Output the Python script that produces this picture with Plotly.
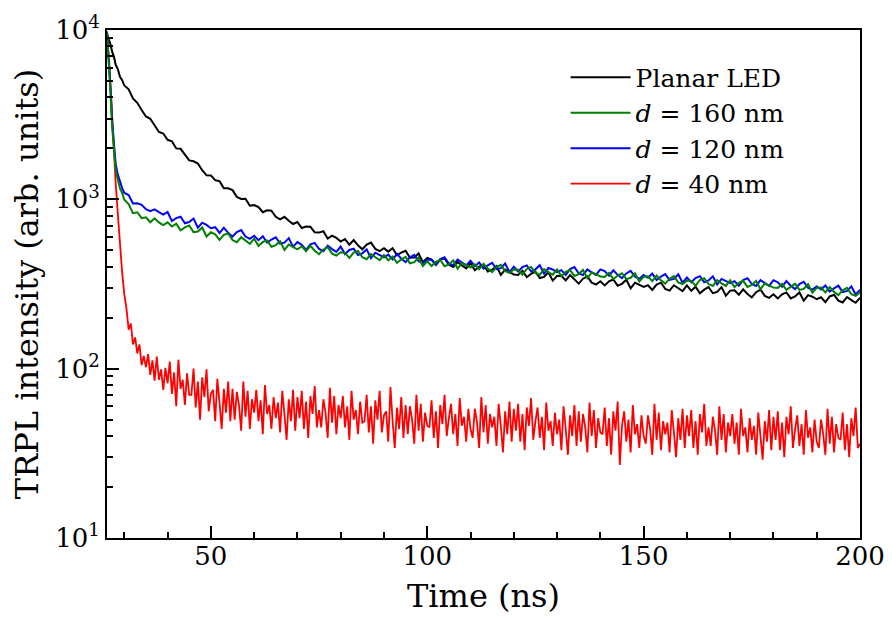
import plotly.graph_objects as go

# ---------------- data ----------------
# common time grid for the three slower curves (ns)
time_head = [26.0, 26.4, 26.8, 27.2, 27.6, 28.0, 28.5, 29.0, 29.5, 30.0]
time_tail = list(range(31, 201))
time_main = time_head + time_tail

planar_led = [
    9500, 8850, 8250, 7420, 6980, 6230, 5870, 5290, 5050, 4700,
    4468, 3940, 3717, 3366, 3087, 2989, 2747, 2499, 2448, 2247,
    2203, 1999, 1988, 1822, 1698, 1677, 1627, 1485, 1387, 1384,
    1297, 1280, 1164, 1162, 1133, 1034, 1005, 1009, 917, 924,
    899, 839, 862, 858, 789, 761, 788, 748, 715, 735,
    677, 690, 688, 639, 636, 648, 586, 610, 592, 563,
    582, 539, 575, 535, 507, 540, 555, 510, 495, 514,
    491, 514, 468, 485, 497, 452, 454, 479, 425, 451,
    441, 410, 440, 448, 411, 398, 427, 407, 391, 420,
    381, 401, 410, 375, 384, 403, 358, 385, 374, 360,
    358, 378, 347, 363, 374, 343, 348, 371, 331, 353,
    354, 332, 357, 335, 318, 340, 351, 322, 314, 328,
    310, 328, 336, 309, 317, 335, 298, 322, 314, 304,
    311, 292, 314, 322, 296, 289, 311, 298, 287, 310,
    288, 305, 279, 293, 303, 279, 284, 303, 270, 289,
    290, 273, 294, 276, 264, 283, 293, 269, 262, 275,
    260, 275, 282, 260, 267, 282, 252, 272, 266, 257,
    264, 247, 267, 273, 252, 246, 265, 254, 245, 262,
]

d160 = [
    9700, 6800, 4300, 2650, 1850, 1490, 1310, 1160, 1090, 995,
    938, 829, 839, 774, 783, 732, 773, 731, 705, 731,
    691, 718, 656, 683, 701, 640, 645, 682, 603, 639,
    622, 576, 617, 629, 575, 558, 598, 569, 546, 586,
    531, 560, 572, 525, 537, 565, 503, 541, 526, 507,
    528, 494, 531, 497, 474, 505, 522, 478, 466, 487,
    483, 451, 485, 496, 455, 443, 475, 454, 437, 469,
    436, 460, 422, 441, 457, 419, 426, 453, 404, 431,
    404, 427, 438, 403, 413, 436, 390, 420, 410, 395,
    413, 387, 416, 390, 372, 398, 410, 377, 368, 385,
    384, 359, 388, 399, 368, 358, 387, 371, 359, 386,
    352, 373, 383, 353, 362, 383, 342, 370, 362, 350,
    348, 368, 338, 355, 366, 338, 344, 366, 327, 349,
    351, 329, 355, 333, 318, 340, 352, 323, 316, 331,
    330, 309, 334, 342, 316, 308, 333, 319, 308, 333,
    303, 321, 330, 304, 312, 330, 295, 318, 311, 301,
    300, 317, 292, 306, 318, 292, 296, 315, 281, 300,
    301, 282, 303, 284, 272, 290, 300, 275, 269, 283,
]

d120 = [
    9800, 7000, 4550, 2850, 2000, 1620, 1400, 1265, 1165, 1090,
    1059, 946, 948, 927, 875, 852, 872, 841, 812, 842,
    744, 774, 789, 722, 735, 770, 681, 728, 706, 675,
    685, 634, 679, 634, 602, 640, 658, 603, 584, 609,
    574, 605, 555, 579, 597, 548, 555, 590, 524, 559,
    539, 503, 542, 553, 509, 494, 532, 508, 489, 526,
    475, 502, 511, 469, 480, 506, 449, 484, 471, 454,
    472, 441, 476, 446, 426, 454, 470, 431, 420, 440,
    440, 412, 444, 455, 418, 408, 441, 422, 407, 434,
    403, 424, 390, 408, 422, 387, 392, 418, 372, 400,
    375, 398, 407, 375, 386, 408, 364, 393, 385, 372,
    382, 358, 387, 398, 366, 357, 386, 370, 358, 386,
    377, 354, 381, 358, 342, 365, 378, 349, 340, 357,
    344, 364, 334, 350, 362, 334, 339, 361, 322, 345,
    324, 343, 352, 324, 332, 351, 314, 339, 331, 320,
    329, 309, 334, 342, 316, 308, 333, 319, 308, 333,
    324, 305, 329, 309, 295, 316, 326, 300, 293, 306,
    294, 310, 285, 298, 309, 283, 288, 306, 274, 292,
]

# d = 40 nm curve, sampled every 0.5 ns from 26 ns
red_t0 = 26.0
red_dt = 0.5
d40 = [
    9000, 6500, 3900, 2000, 1250, 820, 540, 370, 275,
    226, 170, 185, 139, 153, 123, 139, 105, 119, 102,
    122, 92, 112, 85, 118, 86, 99, 75, 101, 82,
    110, 71, 95, 60, 113, 76, 86, 61, 94, 70,
    70, 100, 59, 84, 50, 89, 68, 99, 56, 71,
    75, 49, 87, 63, 44, 76, 55, 84, 49, 76,
    50, 73, 61, 43, 84, 52, 74, 44, 66, 55,
    75, 49, 65, 41, 80, 54, 61, 44, 68, 51,
    63, 42, 74, 54, 38, 66, 49, 75, 43, 68,
    51, 74, 44, 64, 39, 69, 54, 79, 45, 57,
    45, 66, 55, 39, 77, 48, 69, 41, 61, 51,
    69, 45, 60, 38, 74, 50, 57, 41, 64, 48,
    49, 70, 42, 60, 36, 65, 50, 74, 42, 53,
    56, 37, 78, 49, 34, 59, 44, 68, 39, 61,
    41, 60, 50, 36, 70, 43, 62, 37, 55, 46,
    45, 65, 39, 56, 34, 61, 47, 70, 40, 51,
    62, 41, 54, 35, 67, 46, 52, 37, 58, 44,
    39, 58, 48, 34, 68, 42, 61, 36, 54, 45,
    52, 35, 62, 46, 32, 56, 41, 64, 37, 58,
    43, 62, 37, 54, 33, 59, 46, 67, 38, 49,
    59, 39, 52, 33, 63, 43, 49, 35, 55, 41,
    50, 33, 60, 44, 31, 53, 40, 61, 35, 56,
    37, 54, 45, 32, 63, 40, 57, 34, 51, 42,
    41, 59, 35, 51, 31, 56, 43, 64, 27, 46,
    56, 37, 50, 32, 61, 41, 47, 34, 53, 40,
    36, 53, 44, 31, 62, 38, 55, 33, 49, 41,
    48, 32, 57, 42, 30, 51, 38, 58, 34, 53,
    40, 57, 34, 49, 31, 54, 42, 62, 35, 45,
    35, 52, 43, 31, 60, 38, 54, 32, 48, 40,
    54, 36, 48, 31, 58, 40, 45, 32, 51, 38,
    46, 31, 55, 40, 29, 49, 37, 57, 33, 52,
    38, 56, 33, 48, 30, 52, 41, 60, 34, 44,
    53, 35, 47, 31, 57, 39, 45, 32, 50, 37,
    34, 50, 41, 31, 58, 36, 52, 32, 47, 39,
    38, 55, 33, 47, 30, 51, 40, 59, 34, 36,
]
time_red = [red_t0 + red_dt * i for i in range(len(d40))]

series_names = ["Planar LED", "<i>d</i> = 160 nm", "<i>d</i> = 120 nm", "<i>d</i> = 40 nm"]
series_colors = ["#000000", "#008000", "#0000ff", "#ff0000"]

x_tickvals = [50, 100, 150, 200]
y_tickvals = [10, 100, 1000, 10000]
y_ticktext = ["10<sup>1</sup>", "10<sup>2</sup>", "10<sup>3</sup>", "10<sup>4</sup>"]
y_minor = [m * 10 ** k for k in range(1, 4) for m in range(2, 10)]

# ---------------- figure ----------------
FONT = "DejaVu Serif"
fig = go.Figure()

# draw order: black, red, blue, green (green on top); legend order via legendrank
fig.add_trace(go.Scatter(x=time_main, y=planar_led, mode="lines", name=series_names[0],
                         line=dict(color=series_colors[0], width=2), legendrank=1))
fig.add_trace(go.Scatter(x=time_red, y=d40, mode="lines", name=series_names[3],
                         line=dict(color=series_colors[3], width=1.8), legendrank=4))
fig.add_trace(go.Scatter(x=time_main, y=d120, mode="lines", name=series_names[2],
                         line=dict(color=series_colors[2], width=2), legendrank=3))
fig.add_trace(go.Scatter(x=time_main, y=d160, mode="lines", name=series_names[1],
                         line=dict(color=series_colors[1], width=2), legendrank=2))

# the page body has an 8 px margin, so the figure is 8 px smaller than the window
fig.update_layout(
    width=884, height=613,
    margin=dict(l=99, r=32, t=22, b=83, autoexpand=False),
    paper_bgcolor="white", plot_bgcolor="white",
    font=dict(family=FONT, color="black", size=26),
    showlegend=True,
    legend=dict(
        x=0.609, y=0.952, xanchor="left", yanchor="top",
        bgcolor="rgba(0,0,0,0)", borderwidth=0,
        font=dict(family=FONT, size=25, color="black"),
        itemwidth=60, tracegroupgap=0,
    ),
)

fig.update_xaxes(
    range=[26, 200], automargin=False,
    showline=True, linecolor="black", linewidth=2, mirror=True,
    showgrid=False, zeroline=False,
    ticks="inside", ticklen=12, tickwidth=1.5, tickcolor="black",
    tickmode="array", tickvals=x_tickvals,
    tickfont=dict(family=FONT, size=26), ticklabelstandoff=-6,
    minor=dict(ticks="inside", ticklen=6, tickwidth=1.5, tickcolor="black",
               dtick=10, tick0=0, showgrid=False),
    title=dict(text="Time (ns)", font=dict(family=FONT, size=32), standoff=14),
)

fig.update_yaxes(
    type="log", range=[1, 4], automargin=False,
    showline=True, linecolor="black", linewidth=2, mirror=True,
    showgrid=False, zeroline=False,
    ticks="inside", ticklen=12, tickwidth=1.5, tickcolor="black",
    tickmode="array", tickvals=y_tickvals, ticktext=y_ticktext,
    tickfont=dict(family=FONT, size=26),
    minor=dict(ticks="inside", ticklen=6, tickwidth=1.5, tickcolor="black",
               tickmode="array", tickvals=y_minor, showgrid=False),
    title=dict(text="TRPL intensity (arb. units)", font=dict(family=FONT, size=32), standoff=8),
)

fig.write_html("out.html")
